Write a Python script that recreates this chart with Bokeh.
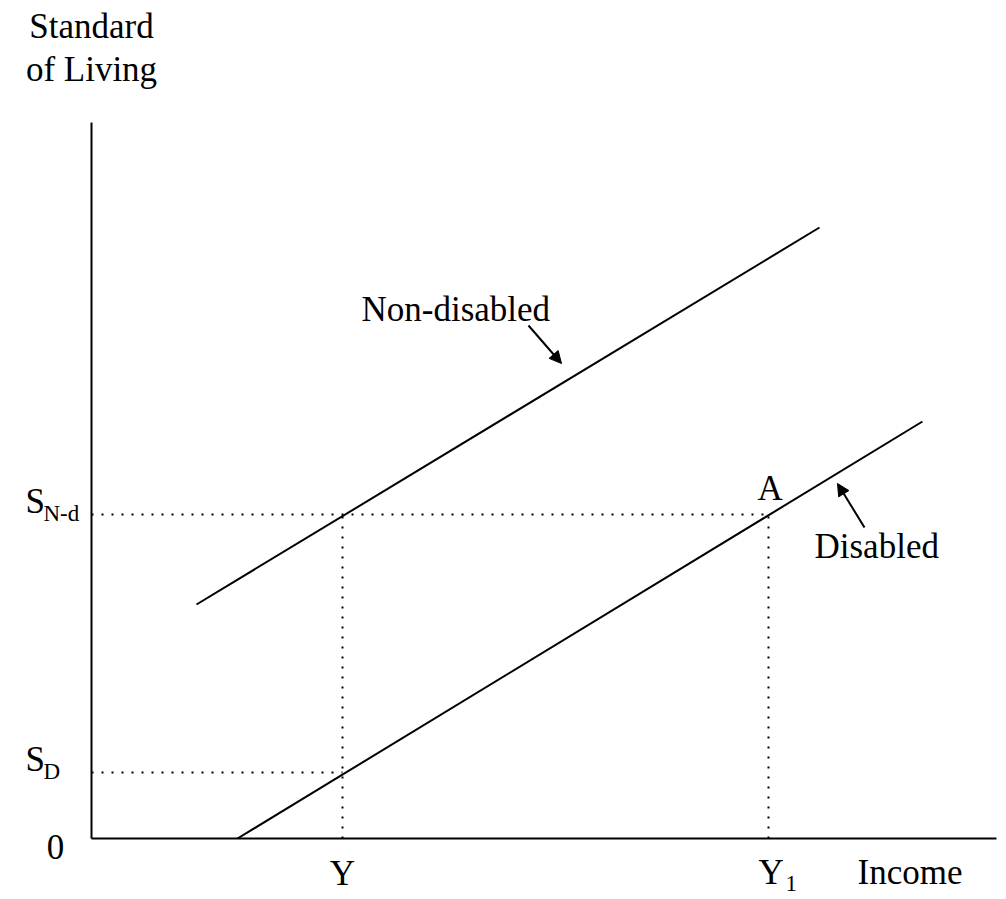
from bokeh.plotting import figure
from bokeh.models import Range1d, Arrow, NormalHead
from bokeh.core.properties import value
from bokeh.embed import file_html
from bokeh.resources import INLINE

# ---- data (income on x, standard of living on y; origin at 0) ----
axis_x_max = 905
axis_y_max = 716
income_Y = 251
income_Y1 = 677
S_Nd = 324
S_D = 66
nondisabled_x = [105, 728]
nondisabled_y = [234, 611]
disabled_x = [146, 831]
disabled_y = [0, 417]

FONT = value("Liberation Serif")
BIG = value("35px")
SMALL = value("23px")
TEXT_DY = 11  # compensates svg baseline placement

p = figure(width=1006, height=899, output_backend="svg", toolbar_location=None,
           x_range=Range1d(-91, 915), y_range=Range1d(-61, 838),
           min_border=0, outline_line_color=None)
p.axis.visible = False
p.grid.visible = False

# axes
p.line([0, 0], [0, axis_y_max], line_color="black", line_width=2)
p.line([0, axis_x_max], [0, 0], line_color="black", line_width=2)

# curves
p.line(nondisabled_x, nondisabled_y, line_color="black", line_width=2)
p.line(disabled_x, disabled_y, line_color="black", line_width=2)

# dotted guides
dot = dict(line_color="black", line_width=2, line_dash="2 8")
p.line([0, income_Y1], [S_Nd, S_Nd], **dot)
p.line([income_Y, income_Y], [0, S_Nd], **dot)
p.line([income_Y1, income_Y1], [0, S_Nd], **dot)
p.line([0, income_Y], [S_D, S_D], **dot)

def label(x, y, t, size=BIG, align="left"):
    p.text(x=[x], y=[y + TEXT_DY], text=[t], text_font=FONT, text_font_size=size,
           text_color="black", text_align=align, text_baseline="alphabetic")

label(0, 801, "Standard", align="center")
label(0, 758, "of Living", align="center")
label(-36, -19, "0", align="center")
label(income_Y, -46, "Y", align="center")
label(income_Y1 - 10, -45, "Y")
label(income_Y1 + 17, -56, "1", size=SMALL)
label(766, -45, "Income")
label(-66, S_D + 2, "S")
label(-48, S_D - 10, "D", size=SMALL)
label(-66, S_Nd + 2, "S")
label(-48, S_Nd - 10, "N-d", size=SMALL)
label(270, 518, "Non-disabled")
label(723, 281, "Disabled")
label(income_Y1 - 11, S_Nd + 15, "A")

# arrows
head = dict(size=12, fill_color="black", line_color="black", line_width=1)
p.add_layout(Arrow(end=NormalHead(**head), x_start=437, y_start=513, x_end=470, y_end=475,
                   line_color="black", line_width=2))
p.add_layout(Arrow(end=NormalHead(**head), x_start=773, y_start=311, x_end=746, y_end=355,
                   line_color="black", line_width=2))

open("out.html", "w").write(file_html(p, INLINE))
